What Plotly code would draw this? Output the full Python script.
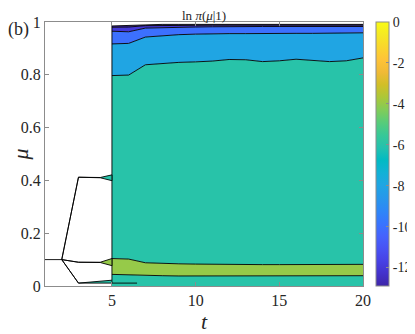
import plotly.graph_objects as go
from plotly.colors import sample_colorscale

# time steps where the posterior covers the whole mu range
t = list(range(5, 21))

# contour boundaries (mu) for t >= 5, from the top down
mu_top = [0.985, 0.987, 0.990, 0.991, 0.991, 0.991, 0.991, 0.991,
          0.991, 0.991, 0.991, 0.991, 0.991, 0.991, 0.991, 0.991]
mu_lvl12 = [0.980, 0.981, 0.986, 0.987, 0.988, 0.988, 0.988, 0.988,
            0.988, 0.988, 0.988, 0.988, 0.988, 0.988, 0.988, 0.988]
mu_lvl10 = [0.965, 0.963, 0.977, 0.979, 0.980, 0.981, 0.982, 0.983,
            0.983, 0.983, 0.983, 0.983, 0.983, 0.983, 0.983, 0.983]
mu_lvl8 = [0.917, 0.919, 0.943, 0.948, 0.952, 0.954, 0.956, 0.956,
           0.956, 0.957, 0.957, 0.957, 0.957, 0.957, 0.958, 0.959]
mu_lvl6 = [0.797, 0.799, 0.838, 0.843, 0.847, 0.849, 0.852, 0.858,
           0.857, 0.850, 0.853, 0.859, 0.855, 0.850, 0.853, 0.864]
mu_green_top = [0.104, 0.102, 0.088, 0.085, 0.084, 0.083, 0.082, 0.081,
                0.081, 0.081, 0.081, 0.081, 0.081, 0.081, 0.082, 0.082]
mu_green_bot = [0.044, 0.042, 0.039, 0.039, 0.038, 0.038, 0.038, 0.038,
                0.038, 0.038, 0.038, 0.038, 0.038, 0.038, 0.038, 0.039]

# early steps: support is only a few mu values (branches)
trunk_t = [1, 2]
trunk_mu = [0.100, 0.100]
branch_t = [2, 3, 4.3, 5]
hi_up = [0.100, 0.412, 0.411, 0.421]
hi_lo = [0.100, 0.412, 0.410, 0.399]
mid_up = [0.100, 0.090, 0.090, 0.104]
mid_lo = [0.100, 0.090, 0.089, 0.077]
low_t = [2, 3, 5]
low_up = [0.100, 0.011, 0.022]
low_lo = [0.100, 0.011, 0.011]
tail_t = [5, 6.5]
tail_mu = [0.011, 0.011]

# colour axis
c_min, c_max = -12.9, 0
cbar_vals = [-12, -10, -8, -6, -4, -2, 0]
cbar_text = ["-12", "-10", "-8", "-6", "-4", "-2", "0"]

parula_rgb = [
    (0.2422, 0.1504, 0.6603), (0.2647, 0.1978, 0.7952), (0.2783, 0.2559, 0.8991),
    (0.2810, 0.3228, 0.9579), (0.2699, 0.3892, 0.9906), (0.2206, 0.4603, 0.9973),
    (0.1786, 0.5289, 0.9682), (0.1540, 0.5902, 0.9218), (0.1248, 0.6459, 0.8883),
    (0.0689, 0.6948, 0.8394), (0.0067, 0.7312, 0.7660), (0.1408, 0.7584, 0.6842),
    (0.2161, 0.7843, 0.5923), (0.3406, 0.8008, 0.4789), (0.5044, 0.7993, 0.3480),
    (0.6720, 0.7793, 0.2227), (0.8203, 0.7498, 0.1535), (0.9393, 0.7288, 0.2100),
    (0.9970, 0.7659, 0.2199), (0.9786, 0.8386, 0.1766), (0.9597, 0.9135, 0.1423),
    (0.9769, 0.9839, 0.0805),
]
parula = [
    [i / (len(parula_rgb) - 1),
     "rgb({},{},{})".format(*[round(255 * c) for c in rgb])]
    for i, rgb in enumerate(parula_rgb)
]


def level_color(v):
    return sample_colorscale(parula, [(v - c_min) / (c_max - c_min)])[0]


line_style = dict(color="black", width=0.9)
fig = go.Figure()

# filled bands for t >= 5, stacked from the bottom
bands = [
    (mu_green_bot, "tozeroy", -6),
    (mu_green_top, "tonexty", -4),
    (mu_lvl6, "tonexty", -6),
    (mu_lvl8, "tonexty", -8),
    (mu_lvl10, "tonexty", -10),
    (mu_lvl12, "tonexty", -12),
    (mu_top, "tonexty", c_min),
]
for mu, fill, lvl in bands:
    fig.add_trace(go.Scatter(x=t, y=mu, mode="lines", line=line_style,
                             fill=fill, fillcolor=level_color(lvl),
                             hoverinfo="skip", showlegend=False))

# left edge of the full-support region
fig.add_trace(go.Scatter(x=[t[0], t[0]], y=[low_up[-1], mu_top[0]],
                         mode="lines", line=line_style, showlegend=False))

# early branches drawn as thin slivers
for bt, up, lo, lvl in [(branch_t, hi_up, hi_lo, -6),
                        (branch_t, mid_up, mid_lo, -4),
                        (low_t, low_up, low_lo, -6)]:
    fig.add_trace(go.Scatter(x=bt + bt[::-1], y=up + lo[::-1], mode="lines",
                             line=line_style, fill="toself",
                             fillcolor=level_color(lvl), showlegend=False))
for xs, ys in [(trunk_t, trunk_mu), (tail_t, tail_mu)]:
    fig.add_trace(go.Scatter(x=xs, y=ys, mode="lines", line=line_style,
                             showlegend=False))

# colour bar
fig.add_trace(go.Scatter(
    x=[None], y=[None], mode="markers", showlegend=False,
    marker=dict(colorscale=parula, cmin=c_min, cmax=c_max, color=[c_min],
                showscale=True,
                colorbar=dict(x=1.04, xanchor="left", y=0.5, yanchor="middle",
                              len=1, thickness=13, xpad=0, ypad=0,
                              outlinecolor="#8c8c8c",
                              outlinewidth=1, ticks="inside", ticklen=3,
                              tickcolor="#8c8c8c", tickvals=cbar_vals,
                              ticktext=cbar_text,
                              tickfont=dict(size=14, color="#262626"))),
))

# the page body adds an 8px offset, so the figure is 8px smaller
axis_font = dict(family="Liberation Serif", size=16, color="#262626")
fig.update_layout(
    width=407, height=326,
    margin=dict(l=37, r=52, t=14, b=48, autoexpand=False),
    plot_bgcolor="white", paper_bgcolor="white",
    font=dict(family="Liberation Serif", color="#262626"),
    xaxis=dict(range=[1, 20], tickvals=[5, 10, 15, 20], ticks="inside",
               ticklen=4, tickcolor="#8c8c8c", showline=True,
               linecolor="#8c8c8c", linewidth=1, mirror="ticks",
               showgrid=False, zeroline=False, tickfont=axis_font,
               title=dict(text="<i>t</i>", font=dict(size=22), standoff=6)),
    yaxis=dict(range=[0, 1], tickvals=[0, 0.2, 0.4, 0.6, 0.8, 1],
               ticktext=["0", "0.2", "0.4", "0.6", "0.8", "1"],
               ticks="inside", ticklen=4, tickcolor="#8c8c8c",
               showline=True, linecolor="#8c8c8c", linewidth=1,
               mirror="ticks", showgrid=False, zeroline=False,
               tickfont=axis_font,
               title=dict(text="<i>μ</i>", font=dict(size=22), standoff=1)),
    annotations=[
        dict(text="ln <i>π</i>(<i>μ</i>|1)", x=0.5, y=1, xref="paper",
             yref="paper", xanchor="center", yanchor="bottom", yshift=-3,
             showarrow=False, font=dict(size=13)),
        dict(text="(b)", x=-0.082, y=0.972, xref="paper", yref="paper",
             xanchor="center", yanchor="middle", showarrow=False,
             font=dict(size=18)),
    ],
)

fig.write_html("out.html")
